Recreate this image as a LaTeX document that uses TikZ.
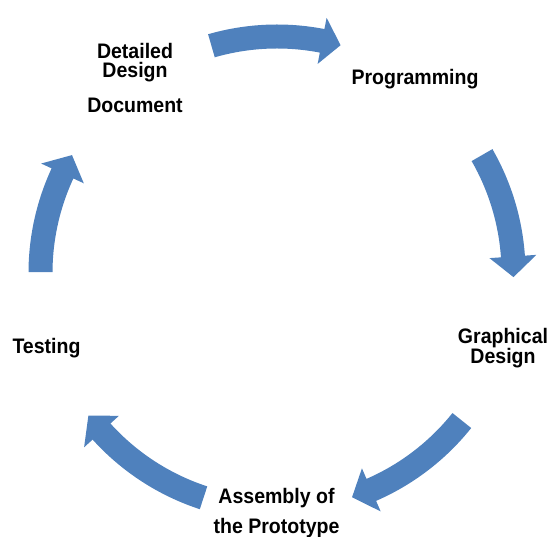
\documentclass[tikz,border=0pt]{standalone}
\usepackage{fontspec}
\setmainfont{Liberation Sans}[FakeStretch=0.93]
\definecolor{cycblue}{HTML}{4F81BD}
\newcommand\cycarrow[3]{%
  \fill[cyc] ([shift={(#1:\R+\w)}]C) arc[start angle=#1, end angle=#2, radius=\R+\w]
    -- ([shift={(#2:\R+\W)}]C) -- ([shift={(#3:\R)}]C) -- ([shift={(#2:\R-\W)}]C)
    -- ([shift={(#2:\R-\w)}]C) arc[start angle=#2, end angle=#1, radius=\R-\w] -- cycle;}
\begin{document}
\begin{tikzpicture}[x=1pt,y=1pt,
  lbl/.style={inner sep=0pt, align=center, anchor=north, text=black},
  cyc/.style={fill=cycblue, draw=none}]
\useasboundingbox (0,0) rectangle (548,537);
\coordinate (C) at (277,264);
\def\R{236.5}\def\w{12}\def\W{23.5}
% arrows: tail angle, head-base angle, tip angle
\cycarrow{106.1}{79.0}{74.4}
\cycarrow{29.9}{4.0}{-1.0}
\cycarrow{-38.6}{-66.5}{-71.5}
\cycarrow{-108.1}{-137.9}{-142.9}
\cycarrow{179.8}{155.1}{150.1}
% labels
\node[lbl, font=\fontsize{21}{19}\selectfont\bfseries] (ddd) at (135,494) {Detailed\\Design\\[16pt]Document};
\node[lbl, font=\fontsize{21}{20}\selectfont\bfseries] (prg) at (415,467.7) {Programming};
\node[lbl, font=\fontsize{21}{20}\selectfont\bfseries] (gfx) at (503,208.7) {Graphical\\Design};
\node[lbl, font=\fontsize{21}{30}\selectfont\bfseries] (asm) at (276.5,48.7) {Assembly of\\the Prototype};
\node[lbl, font=\fontsize{21}{20}\selectfont\bfseries] (tst) at (46.5,198.7) {Testing};
\end{tikzpicture}
\end{document}
